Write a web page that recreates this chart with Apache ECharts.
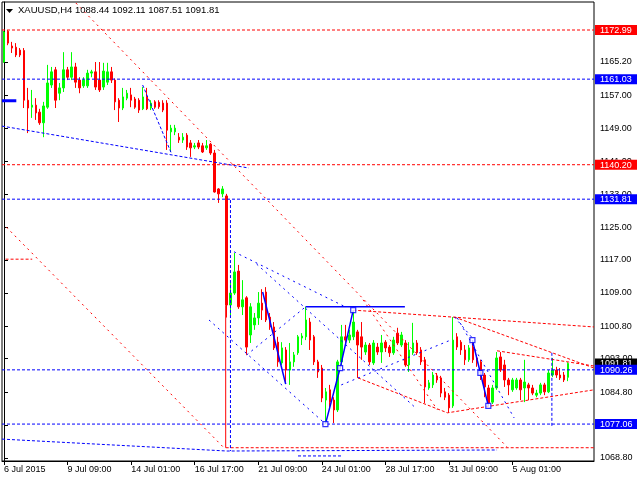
<!DOCTYPE html>
<html>
<head>
<meta charset="utf-8">
<script src="https://cdn.jsdelivr.net/npm/echarts@6/dist/echarts.min.js"></script>
<style>html,body{margin:0;padding:0;background:#fff}#c{width:640px;height:480px}</style>
</head>
<body>
<div id="c"></div>
<script>
// ---- data ----
const symbolName = 'XAUUSD,H4';
const tickLabels = ['6 Jul 2015','9 Jul 09:00','14 Jul 01:00','16 Jul 17:00','21 Jul 09:00','24 Jul 01:00','28 Jul 17:00','31 Jul 09:00','5 Aug 01:00'];
const barSlots = 149;
const yTicks = [1165.20,1157.00,1149.00,1141.00,1133.00,1125.00,1117.00,1109.00,1100.80,1093.00,1084.80,1076.80,1068.80];
const redTags = [1172.99, 1140.20];
const lastTag = [1091.81];
const blueTags = [1161.03, 1131.81, 1090.26, 1077.06];

const opens = [1165.2,1172.7,1169.1,1168.8,1168.1,1168.0,1155.9,1154.2,1154.7,1153.0,
1150.4,1154.2,1159.6,1163.3,1157.6,1158.9,1163.3,1161.5,1164.0,1160.8,
1159.4,1159.4,1162.5,1162.8,1160.8,1159.1,1160.3,1162.8,1160.8,1155.9,
1154.0,1156.4,1157.2,1156.2,1155.9,1153.8,1156.7,1154.0,1155.5,1155.4,
1155.2,1155.2,1148.2,1148.2,1146.9,1146.2,1147.4,1145.5,1144.5,1145.5,
1144.8,1144.3,1145.2,1143.05,1134.3,1133.1,1132.6,1106.05,1108.95,1114.3,
1105.6,1107.8,1098.75,1101.2,1102.9,1106.5,1109.2,1103.1,1100.7,1097.0,
1091.95,1095.1,1090.2,1092.2,1094.4,1098.0,1098.3,1101.9,1098.3,1092.2,
1090.7,1082.9,1085.4,1082.9,1080.5,1092.2,1098.3,1097.5,1098.3,1099.5,
1098.3,1094.6,1096.3,1091.95,1095.8,1094.6,1097.0,1095.8,1094.4,1099.2,
1096.3,1096.8,1091.45,1094.4,1096.8,1095.1,1092.7,1085.85,1086.6,1088.8,
1088.3,1084.9,1084.1,1081.5,1098.3,1097.0,1095.1,1092.7,1095.8,1093.15,
1092.2,1089.0,1085.85,1082.4,1085.85,1093.4,1091.45,1087.8,1085.4,1085.85,
1087.8,1085.85,1086.6,1085.85,1084.1,1084.6,1086.6,1084.9,1089.0,1090.2,
1089.0,1089.0,1088.44];
const highs = [1172.75,1173.0,1170.1,1169.8,1168.6,1168.6,1158.9,1158.4,1156.4,1153.8,
1155.5,1164.5,1164.0,1164.0,1160.1,1167.6,1164.0,1167.6,1165.0,1161.5,
1161.5,1163.3,1163.3,1165.2,1165.2,1165.0,1165.0,1164.0,1161.2,1156.4,
1158.9,1158.4,1158.9,1156.7,1156.4,1159.1,1158.9,1155.9,1155.9,1155.9,
1155.9,1155.9,1149.9,1149.9,1147.9,1147.9,1147.9,1146.2,1145.5,1146.2,
1145.5,1146.2,1145.5,1143.8,1134.5,1135.0,1133.1,1111.4,1118.7,1115.8,
1112.1,1108.2,1106.5,1104.1,1109.2,1109.9,1110.4,1104.1,1101.9,1098.3,
1097.0,1095.8,1096.8,1094.6,1098.75,1099.2,1105.6,1102.9,1098.75,1092.7,
1091.45,1085.85,1086.6,1083.6,1092.7,1101.2,1101.2,1100.0,1104.8,1100.0,
1101.9,1097.0,1096.8,1097.5,1096.8,1098.75,1097.5,1096.3,1098.3,1100.5,
1099.5,1097.5,1097.0,1101.7,1097.5,1095.8,1093.4,1087.8,1089.75,1089.5,
1088.8,1085.85,1084.6,1103.1,1099.2,1097.5,1096.3,1096.3,1097.5,1093.9,
1092.7,1089.5,1086.6,1086.6,1094.6,1094.6,1092.7,1088.3,1088.3,1088.3,
1088.3,1092.7,1087.1,1086.6,1085.4,1087.1,1087.1,1090.2,1093.15,1091.0,
1090.7,1089.75,1092.11];
const lows = [1165.0,1169.3,1167.4,1166.4,1166.4,1154.0,1147.9,1151.6,1151.1,1149.9,
1146.9,1153.8,1158.9,1154.0,1155.9,1157.9,1160.8,1160.8,1158.9,1157.6,
1158.9,1158.9,1161.5,1158.4,1157.9,1158.4,1159.6,1160.1,1153.5,1150.6,
1153.5,1155.9,1154.2,1153.8,1152.8,1153.5,1153.5,1153.5,1153.8,1153.8,
1153.0,1143.8,1143.3,1147.4,1145.5,1145.5,1143.8,1142.1,1144.0,1144.0,
1143.05,1143.8,1142.6,1133.4,1130.9,1132.3,1103.0,1103.6,1108.5,1105.1,
1103.6,1093.9,1096.8,1100.0,1101.2,1102.4,1101.9,1100.0,1095.1,1091.0,
1091.45,1087.1,1086.6,1091.0,1093.9,1096.3,1097.5,1095.1,1091.45,1088.3,
1082.4,1077.06,1080.5,1077.3,1080.0,1091.45,1096.3,1096.8,1097.5,1088.3,
1092.7,1093.9,1091.45,1091.45,1093.9,1091.95,1094.6,1093.4,1093.9,1096.3,
1095.8,1091.0,1089.75,1093.9,1093.9,1091.45,1082.2,1085.4,1085.85,1087.1,
1083.6,1082.9,1079.8,1081.0,1095.1,1093.9,1091.45,1092.2,1091.95,1091.0,
1087.8,1083.6,1081.5,1081.95,1085.4,1089.75,1086.1,1084.1,1084.9,1085.4,
1082.9,1082.4,1082.9,1084.1,1083.6,1084.1,1084.1,1084.6,1088.5,1088.3,
1087.8,1087.3,1087.51];
const closes = [1172.5,1169.8,1168.6,1166.9,1166.9,1155.9,1154.0,1154.7,1152.8,1150.4,
1154.5,1160.1,1162.8,1155.9,1158.9,1163.3,1161.5,1164.0,1160.3,1158.9,
1160.8,1162.5,1162.8,1159.1,1158.4,1163.0,1162.8,1160.8,1155.5,1154.0,
1156.7,1157.6,1155.9,1154.2,1153.5,1156.7,1153.8,1155.2,1154.2,1154.3,
1153.5,1148.6,1149.1,1149.1,1146.2,1146.9,1144.5,1144.3,1144.8,1144.5,
1143.3,1144.8,1143.05,1133.55,1133.1,1134.3,1106.05,1108.95,1114.1,1105.6,
1107.3,1095.8,1105.6,1102.9,1106.5,1104.8,1102.4,1100.7,1095.6,1092.2,
1095.6,1090.2,1092.2,1093.9,1098.3,1098.5,1102.4,1097.5,1092.2,1089.75,
1083.4,1084.9,1082.4,1080.5,1092.2,1098.3,1097.5,1098.75,1101.9,1096.3,
1095.8,1096.3,1092.2,1096.8,1094.6,1096.8,1095.6,1094.4,1097.5,1096.8,
1098.75,1091.45,1095.1,1096.8,1094.4,1092.2,1086.1,1087.1,1089.0,1087.8,
1084.6,1083.6,1081.0,1097.5,1095.8,1095.1,1092.7,1095.6,1092.7,1091.95,
1088.5,1086.1,1082.2,1085.85,1093.15,1090.2,1087.8,1086.6,1087.8,1087.8,
1085.4,1087.3,1085.85,1084.6,1084.6,1086.6,1084.9,1089.5,1090.2,1089.0,
1088.3,1087.8,1091.81];

// horizontal price levels
const redLevels = [1172.99, 1140.20];
const blueLevels = [1161.03, 1131.81, 1090.26, 1077.06];

// drawn objects, in [bar index, price]
const redDottedLines = [
  [[18.1,1179.56],[126.6,1071.5]],
  [[0.6,1125.0],[55.4,1071.25]],
  [[90.4,1107.3],[109.1,1080.5]]
];
const redDashedLines = [
  [[55.8,1071.3],[148.5,1071.3]],
  [[87.9,1104.8],[148.5,1100.7]],
  [[113.4,1103.1],[148.5,1090.7]],
  [[124.1,1094.9],[148.5,1091.2]],
  [[89.1,1088.3],[111.6,1079.8],[148.5,1085.4]],
  [[0.4,1117.2],[7.1,1117.2]]
];
const redSolidLines = [
  [[55.8,1106.0],[55.8,1071.3]]
];
const blueDashedLines = [
  [[57.0,1131.6],[57.0,1070.5]],
  [[-0.5,1073.4],[56.1,1070.5],[124.1,1070.75]],
  [[74.0,1069.3],[84.9,1069.3]],
  [[-0.5,1149.6],[61.6,1139.4]],
  [[34.9,1159.6],[42.1,1143.05]],
  [[137.9,1094.4],[137.9,1076.4]]
];
const blueDottedLines = [
  [[57.9,1119.0],[85.9,1105.6]],
  [[63.6,1116.0],[103.6,1081.0]],
  [[51.6,1102.4],[80.9,1077.1]],
  [[61.1,1093.9],[75.9,1105.6]],
  [[84.9,1086.6],[112.4,1097.5]],
  [[113.4,1103.1],[117.9,1098.0]],
  [[114.1,1102.9],[128.4,1078.55]]
];
const blueSolidLines = [
  [[80.9,1077.06],[84.6,1090.7],[87.9,1104.8]],
  [[65.1,1109.2],[70.9,1086.8]],
  [[75.9,1105.6],[100.9,1105.6]],
  [[117.9,1097.5],[119.9,1089.5],[121.9,1081.5]]
];
const blueThickLines = [
  [[-0.5,1155.8],[3.1,1155.8]]
];
const pivotBoxes = [[80.9,1077.06],[84.6,1090.7],[87.9,1104.8],[117.9,1097.5],[119.9,1089.5],[121.9,1081.5]];

// ---- chart ----
const FONT = 'Liberation Sans';
const RED = '#ff0000', BLUE = '#0000ff', GREEN = '#00ff00';
const categories = Array.from({length: barSlots}, (_, i) => String(i));
const candleData = opens.map((o, i) => [o, closes[i], lows[i], highs[i]]);
const last = opens.length - 1;
const header = symbolName + ' ' + [opens[last], highs[last], lows[last], closes[last]].map(v => v.toFixed(2)).join(' ');
const showTick = (idx) => idx % 16 === 0 && (idx / 16) < tickLabels.length;

function lineSeries(points, color, type, width) {
  return {
    type: 'line', xAxisIndex: 1, yAxisIndex: 0, data: points,
    symbol: 'none', silent: true, animation: false, z: 3,
    lineStyle: { color: color, width: width || 1, type: type }
  };
}
const series = [{
  type: 'candlestick', xAxisIndex: 0, yAxisIndex: 0, data: candleData,
  barWidth: 2, animation: false, z: 2,
  itemStyle: { color: GREEN, color0: RED, borderColor: GREEN, borderColor0: RED, borderWidth: 1 }
}];
const xMin = -0.5, xMax = barSlots - 0.5;
redLevels.forEach(p => series.push(lineSeries([[xMin, p], [xMax, p]], RED, [3, 2])));
blueLevels.forEach(p => series.push(lineSeries([[xMin, p], [xMax, p]], BLUE, [3, 2])));
redDottedLines.forEach(l => series.push(lineSeries(l, RED, [2, 4])));
redDashedLines.forEach(l => series.push(lineSeries(l, RED, [3, 2])));
redSolidLines.forEach(l => series.push(lineSeries(l, RED, 'solid')));
blueDashedLines.forEach(l => series.push(lineSeries(l, BLUE, [3, 2])));
blueDottedLines.forEach(l => series.push(lineSeries(l, BLUE, [2, 4])));
blueSolidLines.forEach(l => series.push(lineSeries(l, BLUE, 'solid', 1.5)));
blueThickLines.forEach(l => series.push(lineSeries(l, BLUE, 'solid', 3)));
series.push({
  type: 'scatter', xAxisIndex: 1, yAxisIndex: 0, data: pivotBoxes, symbol: 'rect', symbolSize: 5,
  silent: true, animation: false, z: 4,
  itemStyle: { color: '#ffffff', borderColor: BLUE, borderWidth: 1.2 }
});

const tagStyle = (bg) => ({ backgroundColor: bg, color: '#fff', fontSize: 9, fontFamily: FONT, width: 33, padding: [1, 4, 0, 5], lineHeight: 9 });
const tagValues = [].concat(redTags, lastTag, blueTags);

const chart = echarts.init(document.getElementById('c'), null, { renderer: 'canvas' });
chart.setOption({
  animation: false,
  backgroundColor: '#ffffff',
  grid: { left: 2, right: 42, top: 2, bottom: 19, show: true, borderColor: '#000', borderWidth: 1, backgroundColor: '#fff' },
  xAxis: [{
    type: 'category', data: categories, boundaryGap: true, position: 'bottom',
    axisLine: { show: true, lineStyle: { color: '#000', width: 1 } },
    axisTick: { show: true, interval: showTick, alignWithLabel: true, length: 4, lineStyle: { color: '#000' } },
    axisLabel: {
      interval: showTick, align: 'left', margin: 4, color: '#000', fontSize: 9, fontFamily: FONT,
      formatter: (v) => { const k = Number(v) / 16; return tickLabels[k] || ''; }
    },
    splitLine: { show: false }
  }, {
    type: 'value', min: xMin, max: xMax, show: false
  }],
  yAxis: [{
    type: 'value', position: 'right', min: 1068.07, max: 1179.81, scale: true,
    axisLine: { show: true, lineStyle: { color: '#000', width: 1 } },
    axisTick: { show: true, length: 4, customValues: yTicks, lineStyle: { color: '#000' } },
    axisLabel: { customValues: yTicks, margin: 6, color: '#000', fontSize: 9, fontFamily: FONT, formatter: v => v.toFixed(2) },
    splitLine: { show: false }
  }, {
    type: 'value', position: 'right', min: 1068.07, max: 1179.81, scale: true, z: 6,
    axisLine: { show: false }, axisTick: { show: false }, splitLine: { show: false },
    axisLabel: {
      customValues: tagValues, margin: 1, align: 'left',
      formatter: v => {
        const s = v.toFixed(2);
        if (redTags.some(t => Math.abs(t - v) < 1e-6)) return '{r|' + s + '}';
        if (lastTag.some(t => Math.abs(t - v) < 1e-6)) return '{k|' + s + '}';
        return '{b|' + s + '}';
      },
      rich: { r: tagStyle(RED), b: tagStyle(BLUE), k: tagStyle('#000000') }
    }
  }],
  graphic: [
    { type: 'polygon', shape: { points: [[6, 9], [13, 9], [9.5, 13]] }, style: { fill: '#000' }, z: 10 },
    { type: 'text', left: 18, top: 5, z: 10, style: { text: header, font: '9.5px "Liberation Sans"', fill: '#000' } }
  ],
  series: series
});
</script>
</body>
</html>
